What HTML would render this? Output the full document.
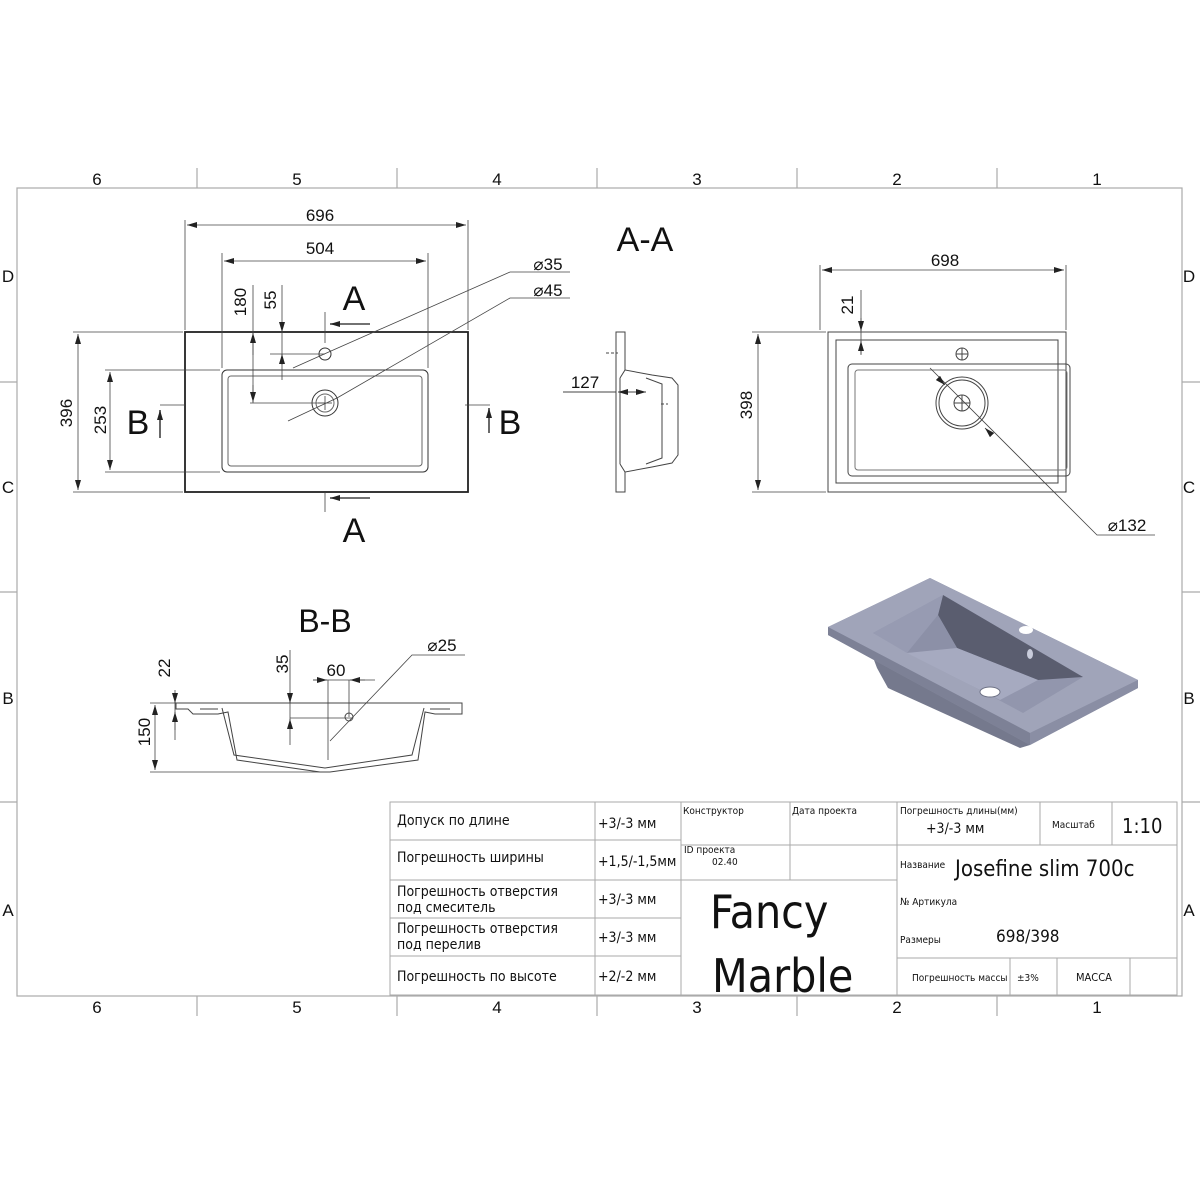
<!DOCTYPE html>
<html><head><meta charset="utf-8"><style>
html,body{margin:0;padding:0;background:#fff;width:1200px;height:1200px;overflow:hidden}
svg{display:block}
.t{font-family:"Liberation Sans","DejaVu Sans",sans-serif;fill:#111}
.c{font-family:"DejaVu Sans Condensed","Liberation Sans Narrow","Liberation Sans",sans-serif;fill:#111}
</style></head><body>
<svg width="1200" height="1200" viewBox="0 0 1200 1200" xmlns="http://www.w3.org/2000/svg">
<defs>
<marker id="a" viewBox="0 0 10 6" refX="10" refY="3" markerWidth="10" markerHeight="6" orient="auto-start-reverse" markerUnits="userSpaceOnUse"><path d="M0,0 L10,3 L0,6 z" fill="#222"/></marker>
</defs>
<!-- frame -->
<g stroke="#aaa" stroke-width="1.2" fill="none">
<rect x="17" y="188" width="1165" height="808"/>
<path d="M197,168V188M397,168V188M597,168V188M797,168V188M997,168V188"/>
<path d="M197,996V1016M397,996V1016M597,996V1016M797,996V1016M997,996V1016"/>
<path d="M0,382H17M0,592H17M0,802H17M1182,382H1200M1182,592H1200M1182,802H1200"/>
</g>
<g class="t" font-size="17" text-anchor="middle">
<text x="97" y="185">6</text><text x="297" y="185">5</text><text x="497" y="185">4</text><text x="697" y="185">3</text><text x="897" y="185">2</text><text x="1097" y="185">1</text>
<text x="97" y="1013">6</text><text x="297" y="1013">5</text><text x="497" y="1013">4</text><text x="697" y="1013">3</text><text x="897" y="1013">2</text><text x="1097" y="1013">1</text>
<text x="8" y="282">D</text><text x="8" y="493">C</text><text x="8" y="704">B</text><text x="8" y="916">A</text>
<text x="1189" y="282">D</text><text x="1189" y="493">C</text><text x="1189" y="704">B</text><text x="1189" y="916">A</text>
</g>

<!-- left plan view -->
<g fill="none" stroke="#333" stroke-width="1">
<rect x="185" y="332" width="283" height="160" stroke-width="1.8" stroke="#222"/>
<rect x="222" y="370" width="206" height="102" rx="5"/>
<rect x="228" y="376" width="194" height="90" rx="3" stroke="#666"/>
<circle cx="325" cy="354" r="6"/>
<circle cx="325" cy="403" r="13"/><circle cx="325" cy="403" r="9" stroke="#666"/>
<path d="M325,396V410M318,403H332" stroke="#666"/>
</g>
<g stroke="#444" stroke-width="0.8" fill="none">
<path d="M185,330V220M468,330V220M222,368V253M428,368V253"/>
<path d="M187,225H466" marker-start="url(#a)" marker-end="url(#a)"/>
<path d="M224,261H426" marker-start="url(#a)" marker-end="url(#a)"/>
<path d="M73,332H183M73,492H183M105,370H220M105,472H220"/>
<path d="M78,334V490" marker-start="url(#a)" marker-end="url(#a)"/>
<path d="M110,372V470" marker-start="url(#a)" marker-end="url(#a)"/>
<path d="M253,285V403" /><path d="M253,333V355" marker-start="url(#a)"/><path d="M253,385V402" marker-end="url(#a)"/>
<path d="M282,285V380"/><path d="M282,325V332" marker-end="url(#a)"/><path d="M282,365V354" marker-end="url(#a)"/>
<path d="M270,354H325M250,403H325"/>
<path d="M325,312V343M325,492V512"/>
<path d="M370,324H330" marker-end="url(#a)" stroke-width="1.6"/>
<path d="M370,498H330" marker-end="url(#a)" stroke-width="1.6"/>
<path d="M293,368L331,351M331,351L510,272H570"/>
<path d="M288,421L337,398M337,398L510,298H570"/>
<path d="M160,405H185M465,405H490"/>
<path d="M160,438V410" marker-end="url(#a)" stroke-width="1.6"/>
<path d="M489,433V408" marker-end="url(#a)" stroke-width="1.6"/>
</g>
<g class="t" font-size="17" text-anchor="middle">
<text x="320" y="221">696</text><text x="320" y="254">504</text>
<text x="354" y="310" font-size="34">A</text><text x="354" y="542" font-size="34">A</text>
<text x="138" y="434" font-size="34">B</text><text x="510" y="434" font-size="34">B</text>
<text x="548" y="270">⌀35</text><text x="548" y="296">⌀45</text>
<text transform="translate(72,413) rotate(-90)">396</text>
<text transform="translate(106,420) rotate(-90)">253</text>
<text transform="translate(246,302) rotate(-90)">180</text>
<text transform="translate(276,300) rotate(-90)">55</text>
<text x="645" y="251" font-size="34">A-A</text>
</g>

<!-- section A-A -->
<g fill="none" stroke="#444" stroke-width="1">
<path d="M616,332H625V370L652,375L672,378L678,385V455L672,463L652,467L625,472V492H616Z"/>
<path d="M620,378L625,370M625,472L620,464M620,378V464M646,378L662,384V458L646,464"/>
<path d="M606,353H618M661,404H668" stroke-dasharray="3,2"/>
<path d="M563,392H616"/><path d="M618,392H646" marker-start="url(#a)" marker-end="url(#a)"/>
</g>
<text class="t" x="585" y="388" font-size="17" text-anchor="middle">127</text>

<!-- right top view -->
<g fill="none" stroke="#444" stroke-width="1">
<rect x="828" y="332" width="238" height="160"/>
<rect x="836" y="340" width="222" height="143"/>
<rect x="852" y="364" width="222" height="112" rx="4" transform="translate(-4,0)"/>
<rect x="855" y="370" width="212" height="100" rx="3" stroke="#777"/>
<circle cx="962" cy="354" r="6"/><path d="M956,354H968M962,348V360"/>
<circle cx="962" cy="403" r="26"/><circle cx="962" cy="403" r="23"/>
<circle cx="962" cy="403" r="8"/><path d="M954,403H970M962,395V411"/>
</g>
<g stroke="#444" stroke-width="0.8" fill="none">
<path d="M820,330V265M1066,330V265"/>
<path d="M822,270H1064" marker-start="url(#a)" marker-end="url(#a)"/>
<path d="M752,332H826M752,492H826"/>
<path d="M758,334V490" marker-start="url(#a)" marker-end="url(#a)"/>
<path d="M861,290V354"/><path d="M861,318V331" marker-end="url(#a)"/><path d="M861,355V341" marker-end="url(#a)"/>
<path d="M930,368L1097,535H1155"/>
<path d="M945,385L938,378" marker-start="url(#a)"/><path d="M985,428L990,433" marker-start="url(#a)"/>
</g>
<g class="t" font-size="17" text-anchor="middle">
<text x="945" y="266">698</text>
<text transform="translate(752,405) rotate(-90)">398</text>
<text transform="translate(853,305) rotate(-90)">21</text>
<text x="1127" y="531">⌀132</text>
</g>

<!-- B-B section -->
<g fill="none" stroke="#444" stroke-width="1">
<path d="M176,703H462V714H435L425,712L418,760L330,772H320L237,760L228,712L218,714H193L188,709H176Z"/>
<path d="M222,708L234,755L325,768L412,755L424,708"/>
<path d="M200,709H218M430,709H450"/>
<circle cx="349" cy="717" r="4"/>
</g>
<g stroke="#444" stroke-width="0.8" fill="none">
<path d="M150,703H178M150,772H320M175,690V740M290,650V745M290,718H352"/>
<path d="M155,705V770" marker-start="url(#a)" marker-end="url(#a)"/>
<path d="M175,693V703" marker-end="url(#a)"/><path d="M175,730V712" marker-end="url(#a)"/>
<path d="M290,695V703" marker-end="url(#a)"/><path d="M290,728V719" marker-end="url(#a)"/>
<path d="M328,680V760M349,680V717M313,680H375"/>
<path d="M313,680H327" marker-end="url(#a)"/><path d="M365,680H350" marker-end="url(#a)"/>
<path d="M330,741L412,655H465"/>
</g>
<g class="t" font-size="17" text-anchor="middle">
<text x="325" y="632" font-size="32">B-B</text>
<text x="442" y="651">⌀25</text>
<text x="336" y="676">60</text>
<text transform="translate(170,668) rotate(-90)">22</text>
<text transform="translate(150,732) rotate(-90)">150</text>
<text transform="translate(288,664) rotate(-90)">35</text>
</g>

<!-- 3D render -->
<g>
<path d="M871,652L877,668L888,688L1020,748L1030,745L1000,720Z" fill="#75798d"/>
<path d="M828,627L930,578L1138,680V688L1030,745L828,635Z" fill="#8f93a8"/>
<path d="M828,627L930,578L1138,680L1030,733Z" fill="#a0a4b9"/>
<path d="M828,627L1030,733V745L828,635Z" fill="#7d8196"/>
<path d="M1030,733L1138,680V688L1030,745Z" fill="#8a8ea4"/>
<path d="M873,633L943,595L1083,677L1023,713Z" fill="#9296ad"/>
<path d="M943,595L1083,677L1038,680L957,648L938,615Z" fill="#5a5d6f"/>
<path d="M873,633L943,595L938,615L907,653Z" fill="#979bb2"/>
<path d="M907,653L938,615L957,648Z" fill="#8c90a7"/>
<path d="M907,653L957,648L1038,680L1000,700Z" fill="#a6aac0"/>
<ellipse cx="1026" cy="630" rx="7" ry="4" fill="#fff"/>
<ellipse cx="1030" cy="654" rx="3" ry="5" fill="#c9ccdb"/>
<ellipse cx="990" cy="692" rx="10" ry="5" fill="#fff" stroke="#6e7285"/>
</g>

<!-- title block -->
<g fill="none" stroke="#aaa" stroke-width="1">
<rect x="390" y="802" width="787" height="193"/>
<path d="M390,840H681M390,880H681M390,918H681M390,956H681"/>
<path d="M595,802V995M681,802V995M790,802V880M681,845H897M681,880H897M897,802V995"/>
<path d="M897,845H1177M1040,802V845M1112,802V845M897,958H1177M1010,958V995M1057,958V995M1130,958V995"/>
</g>
<g class="c" font-size="14">
<text x="397" y="825">Допуск по длине</text>
<text x="397" y="862">Погрешность ширины</text>
<text x="397" y="896">Погрешность отверстия</text>
<text x="397" y="912">под смеситель</text>
<text x="397" y="933">Погрешность отверстия</text>
<text x="397" y="949">под перелив</text>
<text x="397" y="981">Погрешность по высоте</text>
<text x="598" y="828">+3/-3 мм</text>
<text x="598" y="866">+1,5/-1,5мм</text>
<text x="598" y="904">+3/-3 мм</text>
<text x="598" y="942">+3/-3 мм</text>
<text x="598" y="981">+2/-2 мм</text>
<text x="683" y="814" font-size="10">Конструктор</text>
<text x="792" y="814" font-size="10">Дата проекта</text>
<text x="684" y="853" font-size="10">ID проекта</text>
<text x="712" y="865" font-size="10">02.40</text>
<text x="900" y="814" font-size="10">Погрешность длины(мм)</text>
<text x="926" y="833">+3/-3 мм</text>
<text x="1052" y="828" font-size="10">Масштаб</text>
<text x="1122" y="833" font-size="20">1:10</text>
<text x="900" y="868" font-size="10">Название</text>
<text x="955" y="876" font-size="22">Josefine slim 700c</text>
<text x="900" y="905" font-size="10">№ Артикула</text>
<text x="900" y="943" font-size="10">Размеры</text>
<text x="996" y="942" font-size="17">698/398</text>
<text x="912" y="981" font-size="10">Погрешность массы</text>
<text x="1017" y="981" font-size="10">±3%</text>
<text x="1076" y="981" font-size="11">МАССА</text>
<text x="710" y="928" font-size="46">Fancy</text>
<text x="712" y="992" font-size="46">Marble</text>
</g>
</svg>
</body></html>
